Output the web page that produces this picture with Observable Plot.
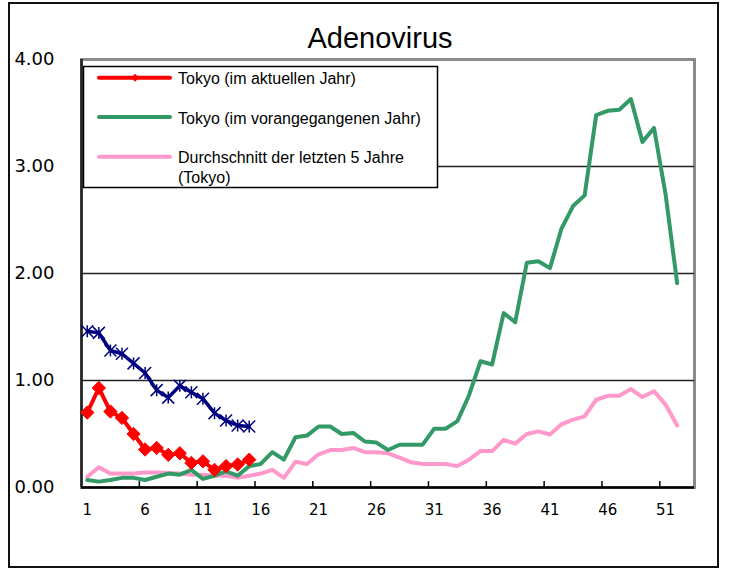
<!DOCTYPE html>
<html>
<head>
<meta charset="utf-8">
<script src="https://cdn.jsdelivr.net/npm/d3@7"></script>
<script src="https://cdn.jsdelivr.net/npm/@observablehq/plot@0.6"></script>
<style>
  body { margin: 0; background: #fff; }
  #wrap { position: relative; width: 729px; height: 569px; overflow: hidden; }
  #wrap svg.plot { position: absolute; left: 0; top: 0; }
  #border { position: absolute; left: 8px; top: 2px; width: 711px; height: 566px; border: 2px solid #111; box-sizing: border-box; pointer-events: none; }
  #legend { position: absolute; left: 0; top: 0; }
</style>
</head>
<body>
<div id="wrap"><div id="border"></div></div>
<script>
// ---- data ----
const title = "Adenovirus";
const weeks = d3.range(1, 54);
const xTickLabels = [1, 6, 11, 16, 21, 26, 31, 36, 41, 46, 51];
const xTickMarks = [5.5, 10.5, 15.5, 20.5, 25.5, 30.5, 35.5, 40.5, 45.5, 50.5];
const yTicks = [0, 1, 2, 3, 4];
const seriesNames = ["Tokyo (im aktuellen Jahr)", "Tokyo (im vorangegangenen Jahr)", "Durchschnitt der letzten 5 Jahre\n(Tokyo)"];
const tokyoCurrent = [0.70, 0.93, 0.71, 0.65, 0.50, 0.355, 0.37, 0.305, 0.32, 0.23, 0.245, 0.165, 0.20, 0.215, 0.26];
const nationalCurrent = [1.46, 1.445, 1.28, 1.25, 1.16, 1.07, 0.91, 0.84, 0.95, 0.89, 0.83, 0.695, 0.626, 0.58, 0.57];
const tokyoPrevious = [0.07, 0.055, 0.07, 0.09, 0.09, 0.07, 0.10, 0.13, 0.12, 0.165, 0.08, 0.11, 0.15, 0.11, 0.20,
  0.22, 0.33, 0.26, 0.47, 0.485, 0.57, 0.57, 0.50, 0.51, 0.43, 0.42, 0.35, 0.40, 0.40, 0.40,
  0.55, 0.55, 0.62, 0.86, 1.18, 1.15, 1.63, 1.545, 2.10, 2.115, 2.05, 2.42, 2.63, 2.73, 3.48,
  3.52, 3.53, 3.63, 3.23, 3.36, 2.74, 1.91];
const fiveYearAvg = [0.10, 0.19, 0.13, 0.13, 0.13, 0.14, 0.14, 0.135, 0.13, 0.12, 0.12, 0.11, 0.11, 0.09, 0.11,
  0.13, 0.165, 0.09, 0.24, 0.22, 0.31, 0.35, 0.35, 0.37, 0.33, 0.33, 0.32, 0.28, 0.235, 0.22,
  0.22, 0.22, 0.20, 0.26, 0.34, 0.34, 0.445, 0.41, 0.50, 0.525, 0.495, 0.59, 0.635, 0.665, 0.82,
  0.857, 0.857, 0.92, 0.845, 0.90, 0.775, 0.58];

const colors = { red: "#ff0000", green: "#339966", pink: "#ff99cc", navy: "#000080" };

const toRows = (arr) => arr.map((v, i) => ({ week: weeks[i], value: v }));
const redRows = toRows(tokyoCurrent);
const navyRows = toRows(nationalCurrent);
const greenRows = toRows(tokyoPrevious);
const pinkRows = toRows(fiveYearAvg);

const star = {
  draw(context, size) {
    const r = Math.sqrt(size / Math.PI);
    context.moveTo(-r, -r); context.lineTo(r, r);
    context.moveTo(r, -r); context.lineTo(-r, r);
    context.moveTo(0, -r); context.lineTo(0, r);
  }
};

const chart = Plot.plot({
  width: 729,
  height: 569,
  marginLeft: 81,
  marginRight: 35,
  marginTop: 59,
  marginBottom: 82,
  style: { fontFamily: "'Liberation Sans', Arial, sans-serif", color: "#000", background: "transparent" },
  x: { domain: [0.5, 53.5], axis: null, label: null },
  y: { domain: [0, 4], axis: null, label: null },
  marks: [
    Plot.frame({ stroke: "#8a8a8a", strokeWidth: 3 }),
    Plot.ruleY([1, 2, 3], { stroke: "#222", strokeWidth: 1.6 }),
    Plot.ruleX(xTickMarks, { y1: 0, y2: 0.055, stroke: "#000", strokeWidth: 1.5 }),
    Plot.ruleY([0], { stroke: "#000", strokeWidth: 2.5 }),
    Plot.ruleX([0.5], { stroke: "#222", strokeWidth: 2.5 }),
    Plot.axisX({ ticks: xTickLabels, tickSize: 0, tickPadding: 17, fontSize: 15, tickFormat: d => String(d),
      fontFamily: "'DejaVu Sans', sans-serif", anchor: "bottom", label: null }),
    Plot.axisY({ ticks: yTicks, tickSize: 0, tickPadding: 27, fontSize: 18, tickFormat: d3.format(".2f"),
      fontFamily: "'DejaVu Sans', sans-serif", anchor: "left", label: null }),
    Plot.text([title], { frameAnchor: "top", lineAnchor: "middle", dy: -21, dx: -8, fontSize: 29,
      fontFamily: "'Liberation Sans', Arial, sans-serif", fill: "#000" }),
    Plot.line(pinkRows, { x: "week", y: "value", stroke: colors.pink, strokeWidth: 4, strokeLinejoin: "round" }),
    Plot.line(greenRows, { x: "week", y: "value", stroke: colors.green, strokeWidth: 4, strokeLinejoin: "round" }),
    Plot.line(navyRows, { x: "week", y: "value", stroke: colors.navy, strokeWidth: 3.5, strokeLinejoin: "round" }),
    Plot.dot(navyRows, { x: "week", y: "value", symbol: star, r: 6, stroke: colors.navy, strokeWidth: 1.5, fill: "none" }),
    Plot.line(redRows, { x: "week", y: "value", stroke: colors.red, strokeWidth: 4, strokeLinejoin: "round" }),
    Plot.dot(redRows, { x: "week", y: "value", symbol: "diamond2", r: 6, fill: colors.red, stroke: colors.red, strokeWidth: 1 })
  ]
});
chart.classList.add("plot");
const wrap = document.getElementById("wrap");
wrap.insertBefore(chart, wrap.firstChild);

// ---- legend overlay ----
const legendItems = [
  { name: seriesNames[0], color: colors.red, marker: true, y: 77.7 },
  { name: seriesNames[1], color: colors.green, marker: false, y: 117 },
  { name: seriesNames[2], color: colors.pink, marker: false, y: 156.7 }
];
const lg = d3.select(wrap).append("svg").attr("id", "legend").attr("width", 729).attr("height", 569);
lg.append("rect").attr("x", 83.5).attr("y", 66.5).attr("width", 354).attr("height", 121)
  .attr("fill", "#fff").attr("stroke", "#000").attr("stroke-width", 1.5);
legendItems.forEach(it => {
  lg.append("line").attr("x1", 99).attr("x2", 170).attr("y1", it.y).attr("y2", it.y)
    .attr("stroke", it.color).attr("stroke-width", 4).attr("stroke-linecap", "round");
  if (it.marker) {
    lg.append("path").attr("d", d3.symbol(d3.symbolDiamond2, 40)())
      .attr("transform", `translate(135,${it.y})`).attr("fill", it.color);
  }
  const lines = it.name.split("\n");
  const t = lg.append("text").attr("x", 178).attr("y", it.y + 6.5)
    .attr("font-family", "'Liberation Sans', Arial, sans-serif").attr("font-size", 16).attr("fill", "#000");
  lines.forEach((ln, i) => t.append("tspan").attr("x", 178).attr("dy", i === 0 ? 0 : 20).text(ln));
});
</script>
</body>
</html>
